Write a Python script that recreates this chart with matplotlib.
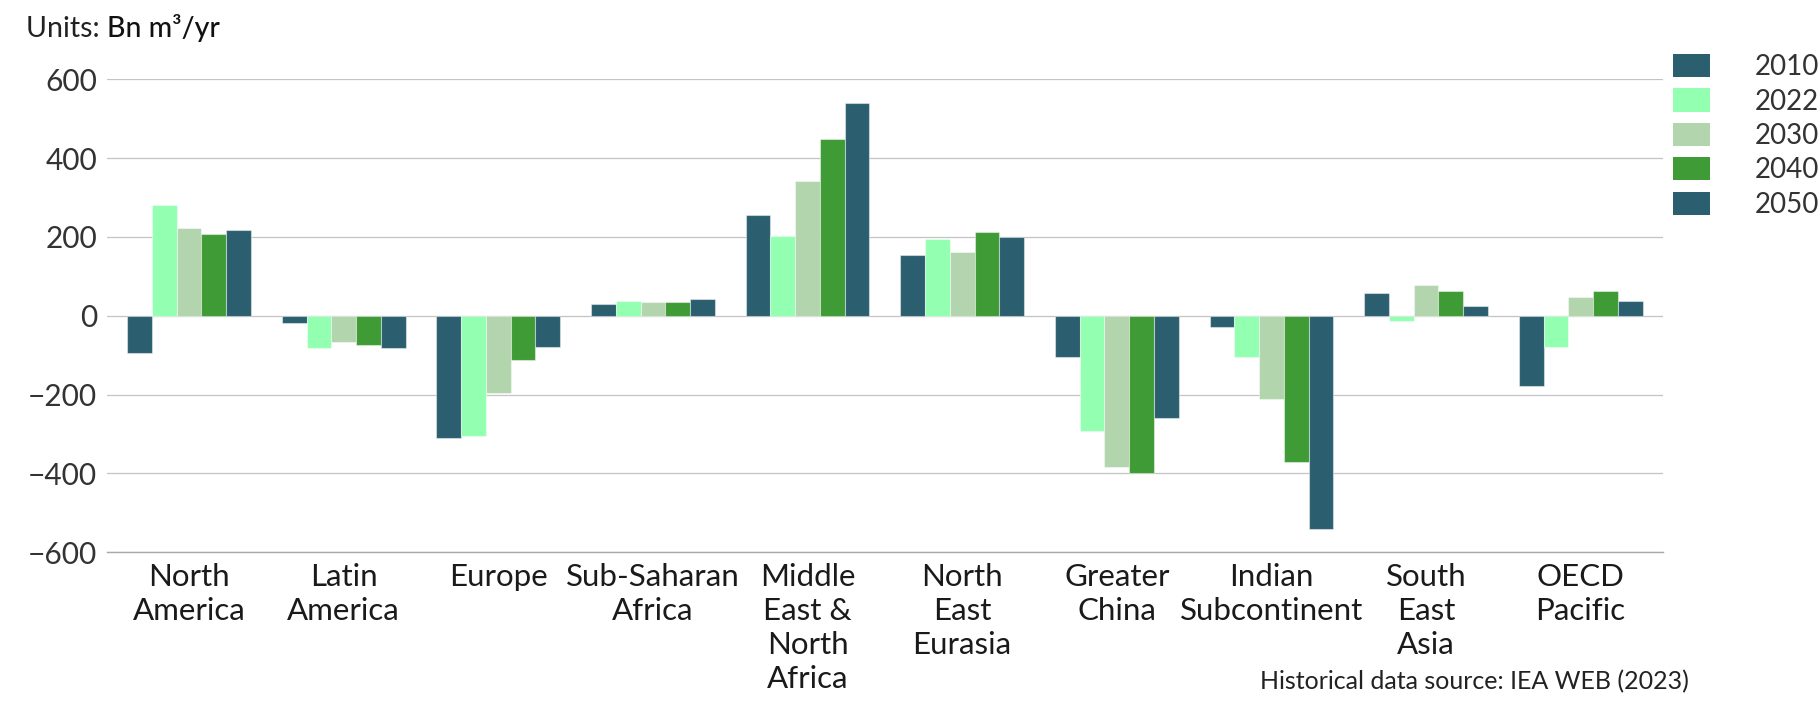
import matplotlib
matplotlib.use("Agg")
import matplotlib.pyplot as plt
from matplotlib.patches import Patch
import numpy as np

plt.rcParams['font.family'] = ['Lato', 'DejaVu Sans']

regions = ["North\nAmerica", "Latin\nAmerica", "Europe", "Sub-Saharan\nAfrica",
           "Middle\nEast &\nNorth\nAfrica", "North\nEast\nEurasia", "Greater\nChina",
           "Indian\nSubcontinent", "South\nEast\nAsia", "OECD\nPacific"]
years = ["2010", "2022", "2030", "2040", "2050"]

# Net balance by region, Bn m3/yr
v2010 = [-95, -19, -310, 31, 255, 153, -104, -29, 58, -177]
v2022 = [281, -81, -304, 37, 202, 195, -292, -104, -13, -78]
v2030 = [222, -66, -195, 35, 342, 162, -383, -211, 77, 48]
v2040 = [207, -75, -111, 36, 448, 212, -399, -372, 64, 63]
v2050 = [217, -81, -80, 42, 539, 201, -260, -542, 26, 37]
series = [v2010, v2022, v2030, v2040, v2050]

colors = ["#2B5F70", "#93FFB1", "#B2D5AE", "#3E9B35", "#2B5F70"]
y_ticks = [-600, -400, -200, 0, 200, 400, 600]

W, H = 1818, 704
fig = plt.figure(figsize=(W / 100, H / 100), dpi=100)
ax = fig.add_axes([106.7 / W, 1 - 552.3 / H, (1663 - 106.7) / W, (552.3 - 79.3) / H])

x = np.arange(len(regions))
bw = 0.16
for i, (vals, c) in enumerate(zip(series, colors)):
    ax.bar(x + (i - 2) * bw, vals, width=bw, color=c,
           edgecolor=(1, 1, 1, 0.45), linewidth=0.8, zorder=3)

ax.set_xlim(-0.5325, len(regions) - 1 + 0.5325)
ax.set_ylim(-600, 600)
ax.set_yticks(y_ticks)
ax.set_yticklabels([f"{t:d}".replace("-", "\u2212") for t in y_ticks])
ax.set_xticks(x)
ax.set_xticklabels(regions, linespacing=1.26)

ax.grid(axis='y', color='#c4c4c4', linewidth=0.9, zorder=0)
ax.set_axisbelow(True)
for s in ['top', 'right', 'left']:
    ax.spines[s].set_visible(False)
ax.spines['bottom'].set_color('#a8a8a8')
ax.spines['bottom'].set_linewidth(1.0)

ax.tick_params(axis='y', length=0, pad=7, labelsize=21.5, labelcolor='#333333')
ax.tick_params(axis='x', length=0, pad=8, labelsize=22.5, labelcolor='#1a1a1a')

# Units label
t1 = fig.text(26 / W, 1 - 37 / H, "Units: ", fontsize=20.5, color='#222222',
              va='baseline', ha='left')
fig.canvas.draw()
ax.annotate("Bn m\u00b3/yr", xy=(1, 0), xycoords=t1, va='bottom', ha='left',
            fontsize=20.5, color='#111111', fontweight='medium', annotation_clip=False)

# Legend
handles = [Patch(facecolor=c, edgecolor='none') for c in colors]
fig.legend(handles, years, loc='upper left', bbox_to_anchor=(1673 / W, 1 - 54 / H),
           frameon=False, fontsize=20, handlelength=1.33, handleheight=0.9,
           handletextpad=1.6, labelspacing=0.3, borderpad=0, borderaxespad=0,
           labelcolor='#333333')

fig.text(1260 / W, 1 - 689 / H, "Historical data source: IEA WEB (2023)",
         fontsize=18, color='#222222', va='baseline', ha='left')

fig.savefig("out.png", dpi=100)
